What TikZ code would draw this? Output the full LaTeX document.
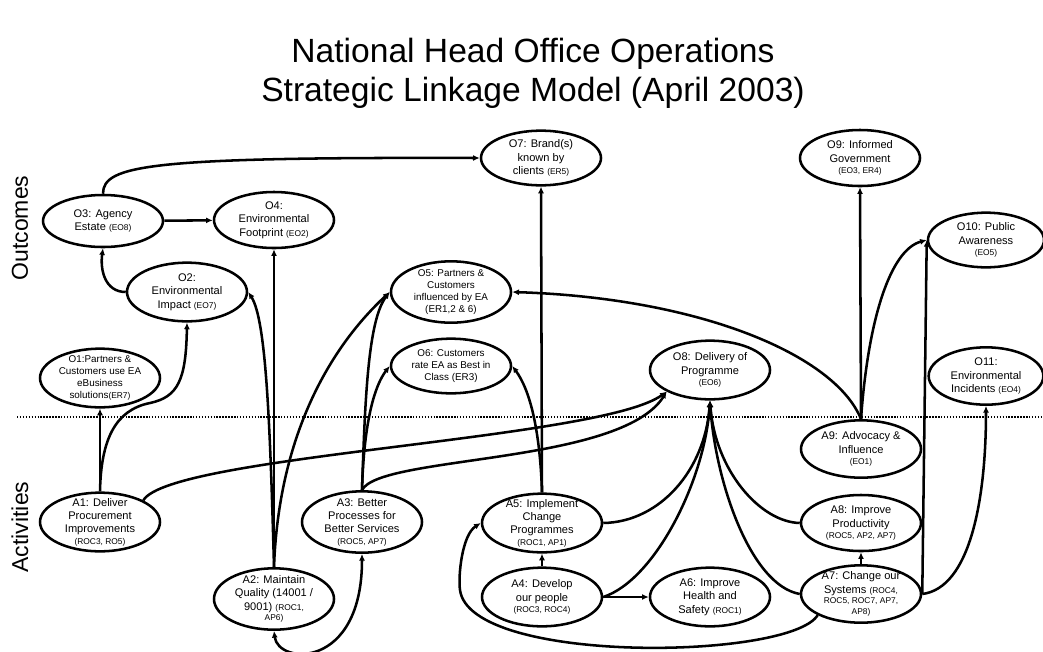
\documentclass[tikz,border=0pt]{standalone}
\usepackage{fontspec}
\setmainfont{Liberation Sans}
\usetikzlibrary{shapes.geometric,arrows.meta}
\newcommand{\kpi}[1]{{\fontsize{6.3}{7.5}\selectfont #1}}

\begin{document}
\begin{tikzpicture}[x=0.75pt,y=-0.75pt,line width=1.9pt,
	oval/.style={ellipse,draw,minimum width=90pt,minimum height=44pt,inner sep=0pt},
	txt/.style={align=center,inner sep=0pt,font=\fontsize{8.3}{10}\selectfont},
	txts/.style={align=center,inner sep=0pt,font=\fontsize{7.4}{8.8}\selectfont},
	arr/.style={-{Latex[length=5pt,width=4.5pt]}},
	arrr/.style={{Latex[length=5pt,width=4.5pt]}-{Latex[length=5pt,width=4.5pt]}},
	side/.style={rotate=90,font=\fontsize{17.25}{20}\selectfont}]
			\useasboundingbox (0,0) rectangle (1043,651);
			% titre
			\node[anchor=base,font=\fontsize{25.2}{30}\selectfont] (title1) at (533,62) {National Head Office Operations};
			\node[anchor=base,font=\fontsize{25.2}{30}\selectfont] (title2) at (533,101) {Strategic Linkage Model (April 2003)};
			\node[side] (outc) at (20,228) {Outcomes};
			\node[side] (activ) at (20,527) {Activities};
			\draw[line width=1.6pt,dash pattern=on 1.1pt off 1.1pt] (17,417) -- (1043,417);
			% outcomes
			\node[oval] (o1) at (100,378) {};
			\node[txts] (o1t) at (o1) {O1:Partners \&\\Customers use EA\\eBusiness\\solutions\kpi{(ER7)}};
			\node[oval] (o2) at (187,292) {};
			\node[txt] (o2t) at (o2) {O2:\\Environmental\\Impact \kpi{(EO7)}};
			\node[oval,minimum height=39pt] (o3) at (103,221) {};
			\node[txt] (o3t) at (o3) {O3: Agency\\Estate \kpi{(EO8)}};
			\node[oval,minimum height=42pt] (o4) at (274,220) {};
			\node[txt] (o4t) at (o4) {O4:\\Environmental\\Footprint \kpi{(EO2)}};
			\node[oval,minimum height=46pt] (o5) at (451,292) {};
			\node[txts] (o5t) at (o5) {O5: Partners \&\\Customers\\influenced by EA\\(ER1,2 \& 6)};
			\node[oval,minimum height=41pt] (o6) at (451,366) {};
			\node[txts] (o6t) at (o6) {O6: Customers\\rate EA as Best in\\Class (ER3)};
			\node[oval,minimum height=41pt] (o7) at (541,158) {};
			\node[txt] (o7t) at (o7) {O7: Brand(s)\\known by\\clients \kpi{(ER5)}};
			\node[oval] (o8) at (710,370) {};
			\node[txt] (o8t) at (o8) {O8: Delivery of\\Programme\\[-1.5pt]\kpi{(EO6)}};
			\node[oval,minimum height=42pt] (o9) at (860,158) {};
			\node[txt] (o9t) at (o9) {O9: Informed\\Government\\[-1.5pt]\kpi{(EO3, ER4)}};
			\node[oval,minimum width=87pt,minimum height=41pt] (o10) at (986,240) {};
			\node[txt] (o10t) at (o10) {O10: Public\\Awareness\\[-1.5pt]\kpi{(EO5)}};
			\node[oval,minimum width=86pt,minimum height=43pt] (o11) at (986,376) {};
			\node[txt] (o11t) at (o11) {O11:\\Environmental\\Incidents \kpi{(EO4)}};
			% activities
			\node[oval] (a1) at (100,522) {};
			\node[txt] (a1t) at (a1) {A1: Deliver\\Procurement\\Improvements\\[-1.5pt]\kpi{(ROC3, RO5)}};
			\node[oval,minimum height=46pt] (a2) at (274,599) {};
			\node[txt] (a2t) at (a2) {A2: Maintain\\Quality (14001 /\\9001) \kpi{(ROC1,}\\[-2pt]\kpi{AP6)}};
			\node[oval,minimum height=46pt] (a3) at (362,522) {};
			\node[txt] (a3t) at (a3) {A3: Better\\Processes for\\Better Services\\[-1.5pt]\kpi{(ROC5, AP7)}};
			\node[oval] (a4) at (542,597) {};
			\node[txt] (a4t) at (a4) {A4: Develop\\our people\\[-1.5pt]\kpi{(ROC3, ROC4)}};
			\node[oval] (a5) at (542,523) {};
			\node[txt] (a5t) at (a5) {A5: Implement\\Change\\Programmes\\[-1.5pt]\kpi{(ROC1, AP1)}};
			\node[oval] (a6) at (710,597) {};
			\node[txt] (a6t) at (a6) {A6: Improve\\Health and\\Safety \kpi{(ROC1)}};
			\node[oval,minimum height=43pt] (a7) at (861,594) {};
			\node[txt] (a7t) at (a7) {A7: Change our\\Systems \kpi{(ROC4,}\\[-2pt]\kpi{ROC5, ROC7, AP7,}\\[-2pt]\kpi{AP8)}};
			\node[oval,minimum height=42pt] (a8) at (861,523) {};
			\node[txt] (a8t) at (a8) {A8: Improve\\Productivity\\[-1.5pt]\kpi{(ROC5, AP2, AP7)}};
			\node[oval,minimum height=43pt] (a9) at (861,449) {};
			\node[txt] (a9t) at (a9) {A9: Advocacy \&\\Influence\\[-1.5pt]\kpi{(EO1)}};
			% liens entre outcomes
			\draw[arr] (o3.north) .. controls (103,165) and (150,157) .. (o7.west);
			\draw[arr] (o3) -- (o4);
			\draw[arr] (o2.west) .. controls (105,292) and (100,270) .. (o3.south);
			% liens depuis A1, A2, A3
			\draw[arr] (a1.north) -- (o1.south);
			\draw[arr] (a1.north) .. controls (101,440) and (115,410) .. (150,403) .. controls (178,397) and (186,380) .. (o2.south);
			\draw[arr] (a1.north east) .. controls (170,455) and (600,440) .. (o8.south west);
			\draw[arr] (a2.north) -- (o4.south);
			\draw[arr] (a2.north) .. controls (270,420) and (266,320) .. (o2.east);
			\draw[arr] (a2.north) .. controls (280,400) and (360,320) .. (o5.west);
			\draw[arrr] (a2.south) .. controls (278,665) and (362,670) .. (a3.south);
			\draw[arr] (a3.north) .. controls (365,400) and (368,320) .. (o5.west);
			\draw[arr] (a3.north) .. controls (364,420) and (375,385) .. (o6.west);
			\draw[arr] (a3.north) .. controls (380,455) and (620,465) .. (o8.south west);
			% liens depuis A4, A5
			\draw[arr] (a5.north) -- (o7.south);
			\draw[arr] (a5.north) .. controls (540,430) and (530,390) .. (o6.east);
			\draw[arr] (a4) -- (a5);
			\draw[arr] (a4) -- (a6);
			\draw[arr] (a5.east) .. controls (660,522) and (705,470) .. (o8.south);
			\draw[arr] (a4.east) .. controls (655,580) and (705,480) .. (o8.south);
			% liens depuis A7, A8, A9
			\draw[arr] (a8.west) .. controls (760,522) and (715,470) .. (o8.south);
			\draw[arr] (a7.west) .. controls (750,585) and (715,480) .. (o8.south);
			\draw[arr] (a7) -- (a8);
			\draw[arr] (a9.north) -- (o9.south);
			\draw[arr] (a9.north) .. controls (868,320) and (890,250) .. (o10.west);
			\draw[arr] (a9.north) .. controls (835,355) and (700,298) .. (o5.east);
			\draw[arr] (a7.east) -- (o10.west);
			\draw[arr] (a7.east) .. controls (970,588) and (986,500) .. (o11.south);
			\draw[arr] (a7.south west) .. controls (790,660) and (470,665) .. (460,590) .. controls (458,576) and (462,535) .. (a5.west);
	\end{tikzpicture}
\end{document}
